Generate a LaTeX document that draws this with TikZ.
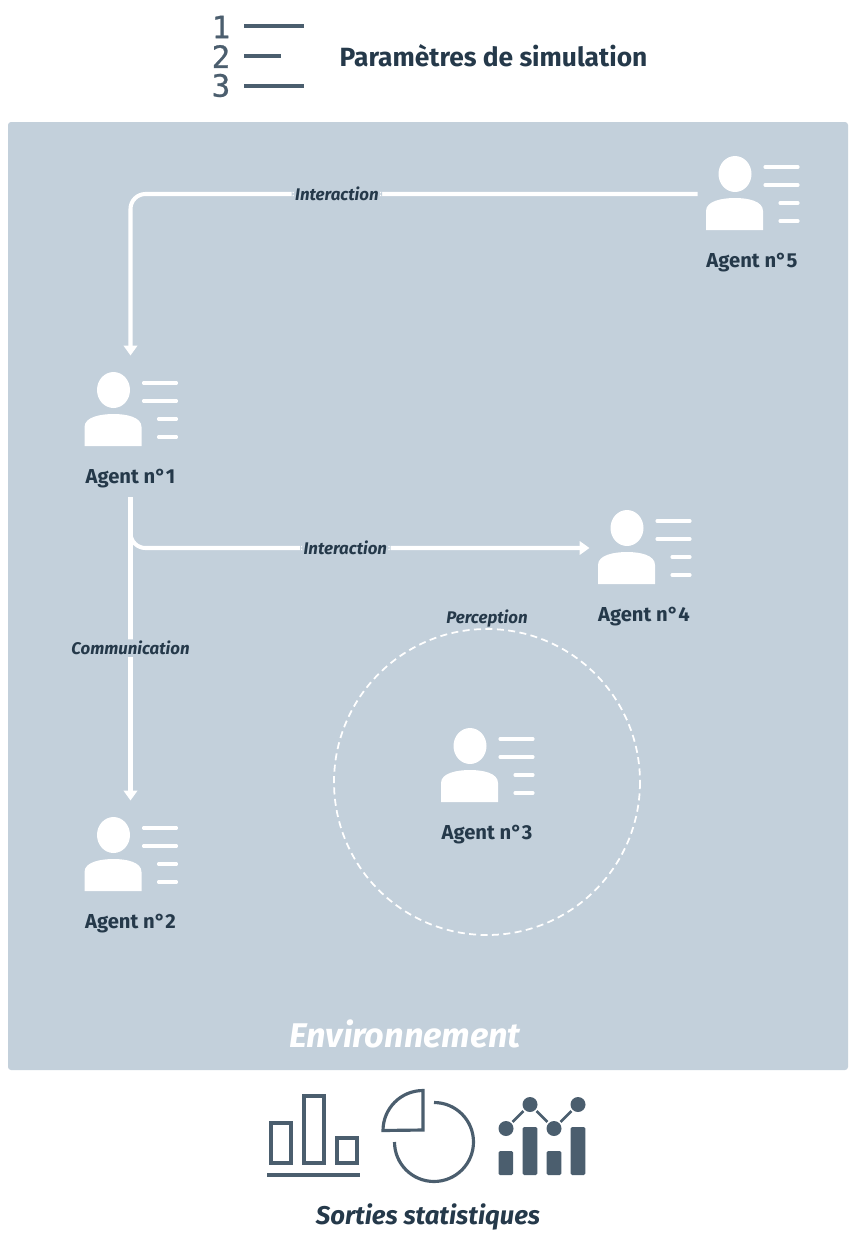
\documentclass[tikz,border=0pt]{standalone}
\usepackage{fontspec}
\setmainfont{Fira Sans}
\newfontfamily\digitfont[FakeBold=0.8]{DejaVu Sans Mono}
\usepackage{xcolor}
\usetikzlibrary{arrows.meta, positioning}
\definecolor{envblue}{HTML}{C3D0DB}
\definecolor{inkdark}{HTML}{25394A}
\definecolor{iconslate}{HTML}{4B5E6E}
\tikzset{
  agentname/.style={font=\fontsize{11.5}{13}\selectfont\bfseries, text=inkdark, inner sep=0pt},
  linklabel/.style={font=\fontsize{9.6}{11}\selectfont\bfseries\itshape, text=inkdark, fill=envblue, inner xsep=2pt, inner ysep=1pt},
  flowline/.style={white, line width=2.3pt, rounded corners=0.3cm},
  flowtip/.style={-{Triangle[width=0.27cm,length=0.2cm]}},
  iconbox/.style={minimum size=2.18cm, inner sep=0pt, outer sep=0pt},
  outlined/.style={iconslate, line width=1.8pt},
  chartdot/.style={circle, fill=iconslate, minimum size=0.3cm, inner sep=0pt, outer sep=1pt},
  pics/agenticon/.style={code={
    \fill[white] (-17,-19) ellipse [x radius=16.5, y radius=18];
    \fill[white] (-46,37) -- (-46,18) .. controls (-46,8) and (-30,5) .. (-17,5)
      .. controls (-4,5) and (11,8) .. (11,18) -- (11,37) -- cycle;
    \draw[white, line width=1.8pt, line cap=round] (13,-26) -- (46,-26) (13,-8) -- (46,-8)
      (28,10) -- (46,10) (28,28) -- (46,28);
  }}
}

\begin{document}
\begin{tikzpicture}[x=0.02cm, y=-0.02cm]
  \useasboundingbox (0,0) rectangle (856,1241);

  % simulation parameters
  \foreach \n/\ypos/\xend/\ydigit in {1/26/304/27, 2/56/281/56.5, 3/86/304/85.5} {
    \node[font=\fontsize{17.5}{18}\selectfont\digitfont, text=iconslate, inner sep=0pt] (digit\n) at (221,\ydigit) {\n};
    \draw[outlined] (244,\ypos) -- (\xend,\ypos);
  }
  \node[font=\fontsize{15}{17}\selectfont\bfseries, text=inkdark, inner sep=0pt] (params) at (493.5,56) {Paramètres de simulation};

  % environment
  \fill[envblue, rounded corners=0.06cm] (8,122) rectangle (848,1070);
  \node[font=\fontsize{19.5}{22}\selectfont\bfseries\itshape, text=white, inner sep=0pt] (env) at (405,1034) {Environnement};

  % agents
  \foreach \n/\xpos/\ypos in {1/130.5/476, 2/130.5/921, 3/487/832, 4/644/614, 5/752/260} {
    \node[iconbox] (icon\n) at (\xpos,\ypos-66) {};
    \pic at ([yshift=0.02cm]icon\n) {agenticon};
    \node[agentname] (agent\n) at (\xpos,\ypos+3) {Agent n°\n};
  }

  \coordinate (start1) at (130.5,497);
  \draw[flowline, flowtip] (icon5.west) -| node[linklabel, pos=0.318] (link5) {Interaction} (icon1.north);
  \draw[flowline, flowtip] (start1) |- node[linklabel, pos=0.734] (link4) {Interaction} (icon4.west);
  \draw[flowline, flowtip] (start1) -- node[linklabel, pos=0.498] (link2) {Communication} (icon2.north);

  % perception area
  \draw[white, line width=1pt, dash pattern=on 4pt off 2.5pt] (487,782) circle [radius=153];
  \node[font=\fontsize{9.6}{11}\selectfont\bfseries\itshape, text=inkdark, inner sep=0pt] (percept) at (487,619) {Perception};

  % output statistics
  \draw[outlined] (271,1123) rectangle (291,1163);
  \draw[outlined] (304,1096) rectangle (324,1163);
  \draw[outlined] (337,1138) rectangle (357,1163);
  \draw[outlined] (267,1175) -- (360,1175);

  \draw[outlined] (434,1102.5) arc [start angle=90, end angle=-180, radius=0.79cm];
  \draw[outlined] (423,1130) -- (423,1090.5) arc [start angle=90, end angle=180, radius=0.8cm] -- cycle;

  \foreach \xpos/\ytop in {498.5/1151, 522.7/1127, 546.7/1151, 570.7/1127}
    \fill[iconslate, rounded corners=0.03cm] (\xpos,\ytop) rectangle (\xpos+14.6,1175);
  \node[chartdot] (dot1) at (506,1128.5) {};
  \node[chartdot] (dot2) at (530,1104.5) {};
  \node[chartdot] (dot3) at (554,1128.5) {};
  \node[chartdot] (dot4) at (578,1104.5) {};
  \draw[iconslate, line width=1.5pt] (dot1) -- (dot2) (dot2) -- (dot3) (dot3) -- (dot4);

  \node[font=\fontsize{14.6}{17}\selectfont\bfseries\itshape, text=inkdark, inner sep=0pt] (stats) at (428,1217) {Sorties statistiques};
\end{tikzpicture}
\end{document}
